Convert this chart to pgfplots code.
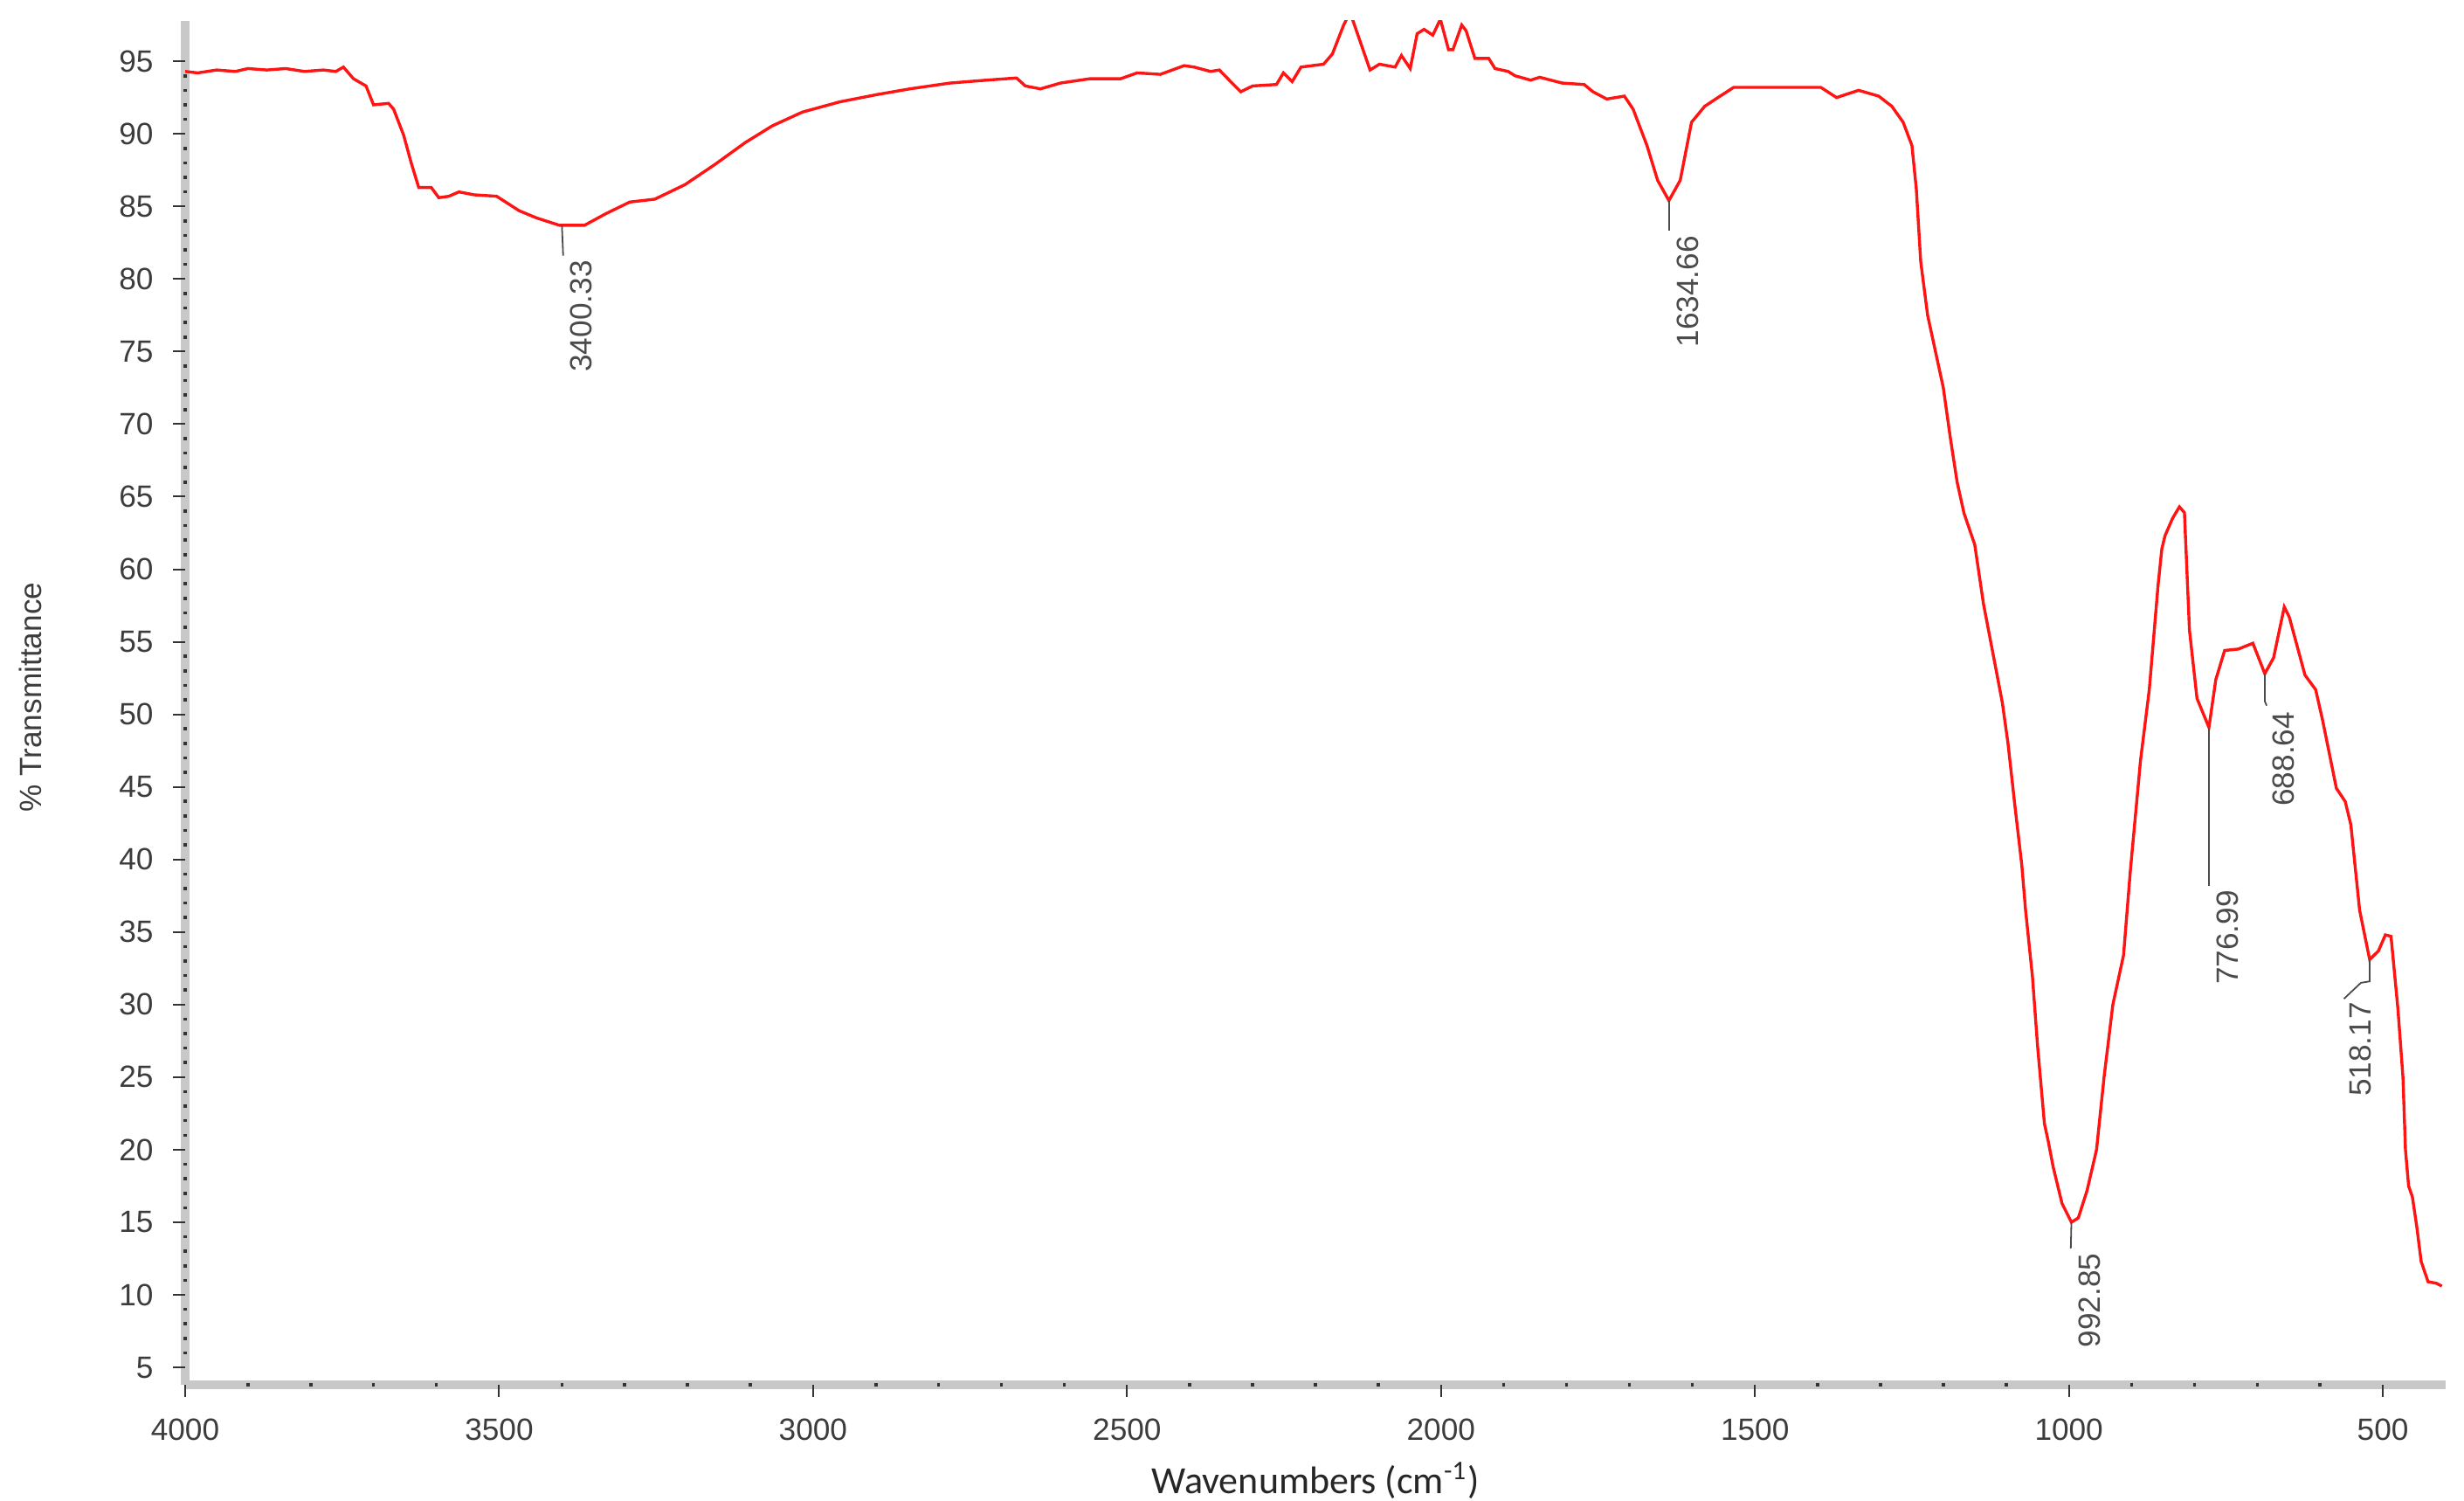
\documentclass[border=0pt]{standalone}
\usepackage{pgfplots}
\pgfplotsset{compat=1.18}
\usepackage{fontspec}
\setmainfont{Liberation Sans}
\newfontfamily\carlito{Carlito}
\definecolor{axgray}{RGB}{200,200,200}
\definecolor{txtgray}{RGB}{60,60,60}
\definecolor{leadgray}{RGB}{75,75,75}
\definecolor{specred}{RGB}{255,20,20}
\pgfplotsset{
  layers/mylayers/.define layer set={
    axis background,axis grid,axis lines,axis ticks,axis tick labels,pre main,main,axis descriptions,axis foreground
  }{/pgfplots/layers/standard},
}
\begin{document}
\begin{tikzpicture}
\path (0,0) rectangle (705.25pt,429.25pt);
\begin{axis}[
  set layers=mylayers,
  at={(53pt,33pt)}, anchor=south west,
  scale only axis, width=647pt, height=390.35pt,
  x dir=reverse, xmin=400, xmax=4000, ymin=3.8, ymax=97.8,
  axis x line=bottom, axis y line=left,
  axis line style={-, draw=axgray, line width=2.5pt},
  xtick={500,1000,...,4000}, ytick={5,10,...,95},
  minor x tick num=4, minor y tick num=4,
  tick align=outside, major tick length=3.5pt, minor tick length=1pt,
  major tick style={black!80, line width=0.5pt},
  minor x tick style={black!80, line width=0.9pt, yshift=0.5pt},
  minor y tick style={black!80, line width=0.9pt, xshift=0.5pt},
  /pgf/number format/assume math mode=true,
  /pgf/number format/1000 sep={},
  ticklabel style={font=\fontsize{8.8}{10}\selectfont, text=txtgray},
  xticklabel style={yshift=-2.8pt},
  yticklabel style={xshift=-2.1pt},
  clip=true,
]
\addplot[specred, line width=0.85pt] coordinates {
(4000,94.3) (3980,94.2) (3950,94.4) (3920,94.3) (3900,94.5) (3870,94.4)
(3840,94.5) (3810,94.3) (3780,94.4) (3760,94.3) (3748,94.6) (3732,93.8)
(3712,93.3) (3700,92.0) (3676,92.1) (3668,91.7) (3652,89.9) (3640,88.0)
(3628,86.3) (3608,86.3) (3596,85.6) (3580,85.7) (3564,86.0) (3540,85.8)
(3504,85.7) (3468,84.7) (3440,84.2) (3404,83.7) (3364,83.7) (3330,84.5)
(3292,85.3) (3252,85.5) (3204,86.5) (3156,87.9) (3108,89.4) (3065,90.55)
(3017,91.5) (2958,92.2) (2899,92.7) (2846,93.1) (2782,93.5) (2724,93.7)
(2676,93.85) (2662,93.3) (2638,93.1) (2606,93.5) (2559,93.8) (2510,93.8)
(2484,94.2) (2447,94.1) (2409,94.7) (2393,94.6) (2367,94.3) (2353,94.4)
(2335,93.6) (2319,92.9) (2300,93.3) (2262,93.4) (2251,94.2) (2237,93.6)
(2223,94.6) (2187,94.8) (2173,95.5) (2155,97.5) (2148,98.1) (2141,97.9)
(2113,94.4) (2098,94.8) (2073,94.6) (2063,95.4) (2049,94.5) (2038,96.9)
(2027,97.2) (2013,96.8) (2001,97.9) (1988,95.8) (1981,95.8) (1967,97.5)
(1960,97.1) (1946,95.2) (1924,95.2) (1914,94.5) (1893,94.3) (1882,94.0)
(1857,93.7) (1843,93.9) (1807,93.5) (1772,93.4) (1758,92.9) (1736,92.4)
(1708,92.6) (1694,91.7) (1672,89.2) (1655,86.8) (1637,85.4) (1619,86.8)
(1601,90.8) (1580,91.9) (1559,92.5) (1534,93.2) (1395,93.2) (1370,92.5)
(1335,93.0) (1303,92.6) (1282,91.9) (1264,90.8) (1250,89.2) (1243,86.2)
(1236,81.2) (1225,77.5) (1210,74.5) (1200,72.5) (1189,69.1) (1178,66.0)
(1167,63.85) (1150,61.7) (1136,57.6) (1117,53.3) (1106,50.8) (1097,48.0)
(1086,43.7) (1075,39.6) (1069,36.5) (1058,31.9) (1050,27.2) (1039,21.8)
(1033,20.6) (1025,18.8) (1011,16.3) (996,15.0) (985,15.3) (971,17.2)
(956,20.0) (944,25.0) (930,30.0) (913,33.4) (902,39.3) (886,46.8)
(872,51.7) (858,58.9) (852,61.4) (847,62.3) (835,63.5) (824,64.3)
(816,63.9) (808,55.8) (796,51.1) (777,49.1) (766,52.4) (752,54.4)
(730,54.5) (707,54.9) (688,52.8) (674,53.9) (657,57.4) (649,56.7)
(624,52.7) (607,51.7) (596,49.6) (574,44.9) (560,44.0) (551,42.4)
(537,36.5) (521,33.1) (507,33.7) (496,34.8) (487,34.7) (476,29.7)
(468,25.0) (464,20.0) (459,17.5) (453,16.75) (446,14.7) (439,12.3)
(428,10.9) (415,10.8) (406,10.6)
};
% peak leaders and labels
\draw[leadgray, line width=0.45pt] (axis cs:3400,83.7) -- (axis cs:3398,81.6);
\node[rotate=90, anchor=north east, inner sep=0.8pt, text=leadgray, font=\fontsize{8.8}{10}\selectfont] at (axis cs:3392,81.5) {3400.33};
\draw[leadgray, line width=0.45pt] (axis cs:1637,85.4) -- (axis cs:1637,83.3);
\node[rotate=90, anchor=north east, inner sep=0.8pt, text=leadgray, font=\fontsize{8.8}{10}\selectfont] at (axis cs:1630,83.2) {1634.66};
\draw[leadgray, line width=0.45pt] (axis cs:996,15.0) -- (axis cs:997,13.2);
\node[rotate=90, anchor=north east, inner sep=0.8pt, text=leadgray, font=\fontsize{8.8}{10}\selectfont] at (axis cs:990,13.1) {992.85};
\draw[leadgray, line width=0.6pt] (axis cs:777,49.1) -- (axis cs:777,38.2);
\node[rotate=90, anchor=north east, inner sep=0.8pt, text=leadgray, font=\fontsize{8.8}{10}\selectfont] at (axis cs:770,38.1) {776.99};
\draw[leadgray, line width=0.45pt] (axis cs:688,52.8) -- (axis cs:688,50.9) -- (axis cs:685,50.6);
\node[rotate=90, anchor=north east, inner sep=0.8pt, text=leadgray, font=\fontsize{8.8}{10}\selectfont] at (axis cs:681,50.4) {688.64};
\draw[leadgray, line width=0.45pt] (axis cs:521,33.1) -- (axis cs:521,31.6) -- (axis cs:535,31.5) -- (axis cs:562,30.4);
\node[rotate=90, anchor=north east, inner sep=0.8pt, text=leadgray, font=\fontsize{8.8}{10}\selectfont] at (axis cs:559,30.4) {518.17};
\end{axis}
\node[rotate=90, text=txtgray, font=\fontsize{8.8}{10}\selectfont] at (8.75pt,229.7pt) {\% Transmittance};
\node[anchor=base, text=black!85, font=\carlito\fontsize{11}{13}\selectfont, inner sep=0pt] at (376.5pt,1.9pt) {Wavenumbers (cm\textsuperscript{-1})};
\end{tikzpicture}
\end{document}
